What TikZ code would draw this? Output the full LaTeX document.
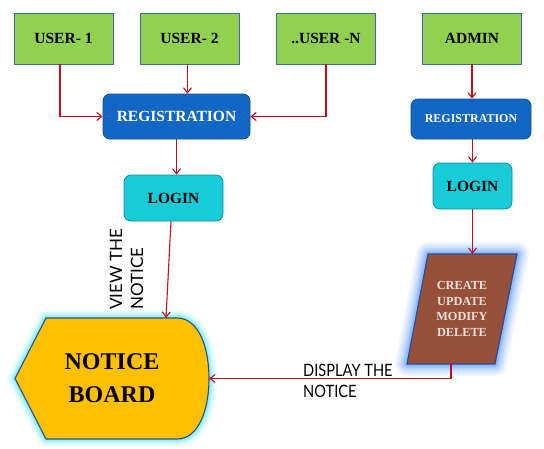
\documentclass[tikz,border=0pt]{standalone}
\usepackage{fontspec}
\setmainfont{Liberation Serif}
\newfontfamily\labelfont{Lato}
\newfontfamily\labelfontn[FakeStretch=0.86]{Lato}
\usetikzlibrary{arrows.meta}
\definecolor{ugreen}{HTML}{92D050}
\definecolor{uborder}{HTML}{3A6EA5}
\definecolor{regblue}{HTML}{1267C4}
\definecolor{logcyan}{HTML}{17CBD8}
\definecolor{brownf}{HTML}{96503A}
\definecolor{goldf}{HTML}{FFC000}
\definecolor{arrowred}{HTML}{C0101E}
\definecolor{cyanglow}{HTML}{40E8FF}
\definecolor{blueglow}{HTML}{3F86FF}
\definecolor{paletext}{HTML}{F6E2DC}
\definecolor{shapeborder}{HTML}{2A4F8F}
\tikzset{
  userbox/.style={draw=uborder, line width=0.9pt, fill=ugreen, minimum width=99pt, minimum height=51pt, inner sep=0pt, font=\fontsize{15.5}{18}\selectfont\bfseries},
  regbox/.style={draw=regblue!75!black, line width=0.8pt, fill=regblue, rounded corners=7pt, inner sep=0pt, text=white, font=\bfseries},
  loginbox/.style={draw=logcyan!70!black, line width=0.8pt, fill=logcyan, rounded corners=7pt, minimum width=79pt, minimum height=46pt, inner sep=0pt, font=\fontsize{15.5}{18}\selectfont\bfseries},
  flow/.style={draw=arrowred, line width=1.1pt, -{Straight Barb[length=5pt,width=8pt]}},
  edgelabel/.style={font=\labelfont\fontsize{17}{21}\selectfont, align=left, inner sep=0pt}
}
\begin{document}
\begin{tikzpicture}[x=1pt,y=-1pt]
\useasboundingbox[fill=white] (0,0) rectangle (544,448);

% top boxes
\node[userbox] (u1) at (63.5,38.5) {USER- 1};
\node[userbox] (u2) at (189.5,38.5) {USER- 2};
\node[userbox] (un) at (326,38.5) {..USER -N};
\node[userbox] (ad) at (472,38.5) {ADMIN};

% registration
\node[regbox, minimum width=147pt, minimum height=45pt, font=\fontsize{15.5}{18}\selectfont\bfseries] (regL) at (176.5,116.5) {REGISTRATION};
\node[regbox, minimum width=120pt, minimum height=40pt, font=\fontsize{12}{14}\selectfont\bfseries] (regR) at (471,119) {REGISTRATION};

% login
\node[loginbox, minimum width=99pt] (loginL) at (173.5,198) {LOGIN};
\node[loginbox] (loginR) at (472.5,186) {LOGIN};

% parallelogram
\foreach \w/\o in {24/0.07,20/0.08,16/0.1,12/0.13,8/0.17,5/0.22}
  \draw[blueglow, line width=\w pt, opacity=\o, line join=round] (428,254) -- (517,254) -- (495,364) -- (407,364) -- cycle;
\draw[fill=brownf, draw=shapeborder, line width=1.2pt] (428,254) -- (517,254) -- (495,364) -- (407,364) -- cycle;
\node[inner sep=0pt, minimum width=110pt, minimum height=110pt, align=center, text=paletext, font=\fontsize{12.3}{15.7}\selectfont\bfseries] (cud) at (462,309) {CREATE\\UPDATE\\MODIFY\\DELETE};

% notice board
\foreach \w/\o in {16/0.08,12/0.11,9/0.15,6/0.22,3/0.35}
  \draw[cyanglow, line width=\w pt, opacity=\o, line join=round] (15,378.5) -- (46,318) -- (177,318) .. controls (199,318) and (209,348) .. (209,378.5) .. controls (209,409) and (199,439) .. (177,439) -- (46,439) -- cycle;
\draw[fill=goldf, draw=shapeborder, line width=1.1pt] (15,378.5) -- (46,318) -- (177,318) .. controls (199,318) and (209,348) .. (209,378.5) .. controls (209,409) and (199,439) .. (177,439) -- (46,439) -- cycle;
\node[inner sep=0pt, minimum width=194pt, minimum height=121pt, align=center, font=\fontsize{24}{33}\selectfont\bfseries] (nb) at (112,378.5) {NOTICE\\BOARD};

% connectors
\draw[flow] ([xshift=-3.5pt]u1.south) |- (regL.west);
\draw[flow] ([xshift=-2pt]u2.south) -- ([xshift=-2pt]u2.south |- regL.north);
\draw[flow] (un.south) |- (regL.east);
\draw[flow] (ad.south) -- (ad.south |- regR.north);
\draw[flow] (regL.south) -- (regL.south |- loginL.north);
\draw[flow] (regR.south -| loginR.north) -- (loginR.north);
\draw[flow] ([xshift=-2.5pt]loginL.south) -- ([xshift=54pt]nb.north);
\draw[flow] (loginR.south) -- (loginR.south |- cud.north);
\draw[flow] ([xshift=-11pt]cud.south) |- (nb.east);

% labels
\node[edgelabel, rotate=90, anchor=base west] (lview) at (143,310) {VIEW THE\\NOTICE};
\node[edgelabel, font=\labelfontn\fontsize{17}{21}\selectfont, anchor=base west] (ldisp) at (303,397) {DISPLAY THE\\NOTICE};
\end{tikzpicture}
\end{document}
